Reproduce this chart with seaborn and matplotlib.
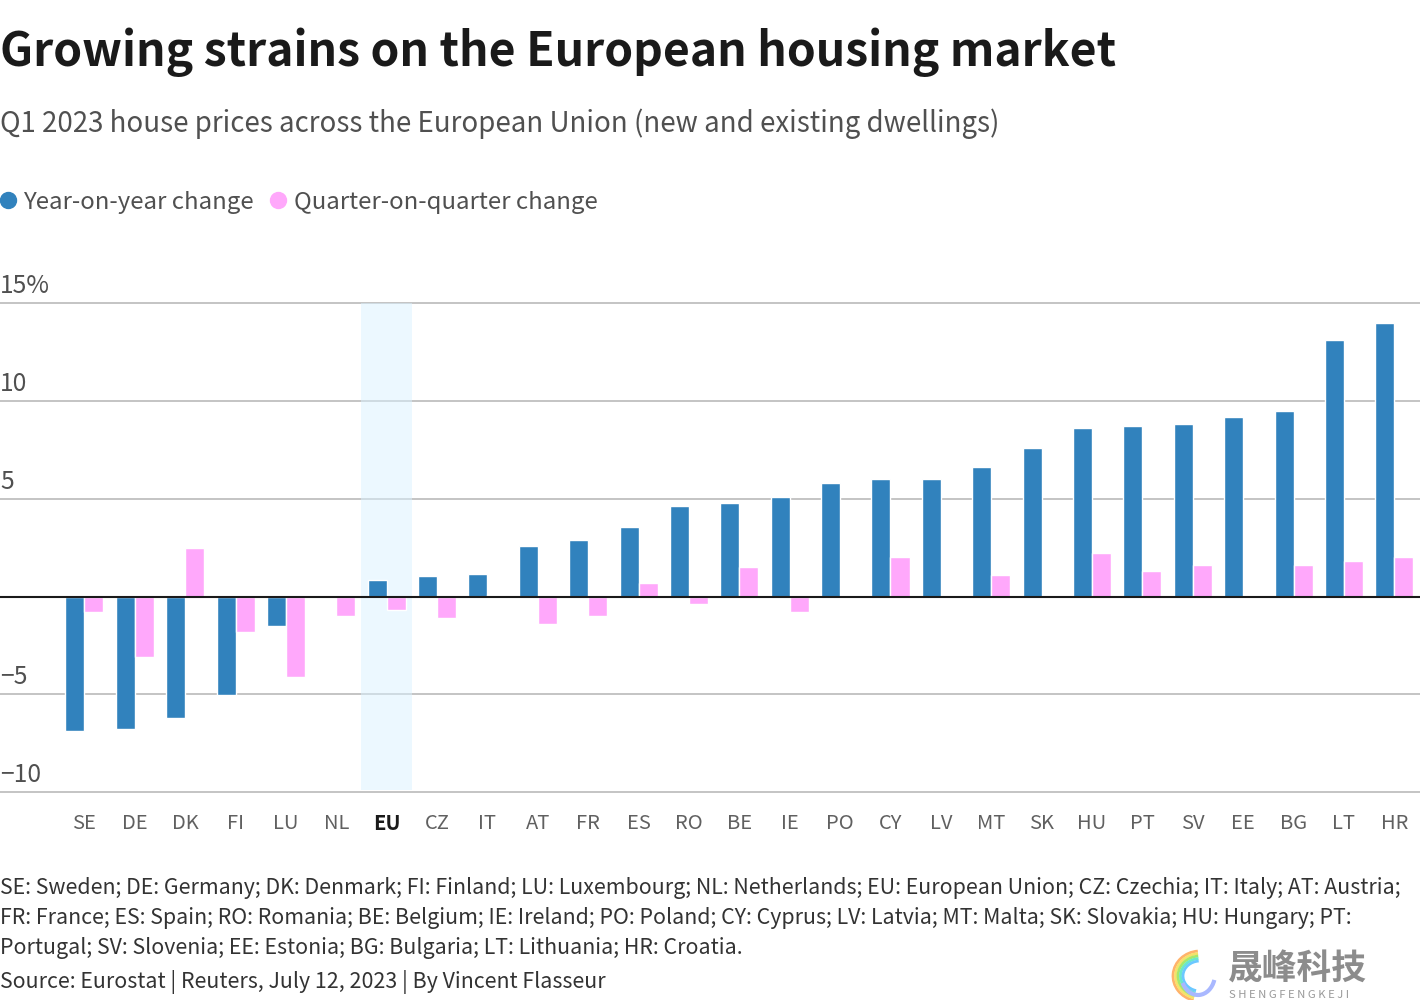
import pandas as pd
import matplotlib.pyplot as plt
import seaborn as sns
from matplotlib.lines import Line2D
from matplotlib.patches import Arc

countries = ["SE", "DE", "DK", "FI", "LU", "NL", "EU", "CZ", "IT", "AT", "FR", "ES", "RO", "BE",
             "IE", "PO", "CY", "LV", "MT", "SK", "HU", "PT", "SV", "EE", "BG", "LT", "HR"]
yoy = [-6.85, -6.75, -6.2, -5.05, -1.5, 0, 0.85, 1.05, 1.15, 2.6, 2.9, 3.55, 4.65, 4.8,
       5.1, 5.8, 6.0, 6.0, 6.6, 7.6, 8.6, 8.7, 8.8, 9.15, 9.5, 13.1, 14.0]
qoq = [-0.8, -3.1, 2.5, -1.8, -4.1, -1.0, -0.7, -1.1, 0.1, -1.4, -1.0, 0.7, -0.4, 1.5,
       -0.8, 0, 2.0, 0, 1.1, 0, 2.2, 1.3, 1.6, 0, 1.6, 1.8, 2.0]
y_ticks = [-10, -5, 0, 5, 10, 15]
y_labels = {-10: "\u221210", -5: "\u22125", 5: "5", 10: "10", 15: "15%"}

YOY_NAME = "Year-on-year change"
QOQ_NAME = "Quarter-on-quarter change"
BLUE = "#3182bd"
PINK = "#ffa8fb"
TEXT = "#505050"

sns.set_theme(style="white")
plt.rcParams["font.family"] = ["Noto Sans CJK SC", "DejaVu Sans"]

df = pd.DataFrame({
    "country": countries * 2,
    "change": yoy + qoq,
    "series": [YOY_NAME] * len(yoy) + [QOQ_NAME] * len(qoq),
})

fig = plt.figure(figsize=(14.2, 10), dpi=100)
ax = fig.add_axes([0, 0.2078, 1, 0.4892])

sns.barplot(
    data=df,
    x="country",
    y="change",
    hue="series",
    palette={YOY_NAME: BLUE, QOQ_NAME: PINK},
    width=0.755,
    gap=0,
    saturation=1,
    legend=False,
    zorder=3,
    ax=ax,
)

ax.set_xlim(-1.675, 26.51)
ax.set_ylim(-10, 15)
ax.set_xlabel("")
ax.set_ylabel("")
sns.despine(ax=ax, left=True, bottom=True)

# Lineas de la cuadricula y la del cero
ax.set_yticks(y_ticks)
ax.set_yticklabels([])
ax.grid(axis="y", color="#c4c4c4", linewidth=1.4, zorder=0)
ax.grid(axis="x", visible=False)
for line in ax.get_ygridlines():
    line.set_clip_on(False)
ax.axhline(0, color="#1a1a1a", linewidth=1.5, zorder=4)
ax.axvspan(5.5, 6.5, ymin=0.004, color="#daf2ff", alpha=0.5, linewidth=0, zorder=1)
ax.tick_params(axis="y", length=0)
ax.tick_params(axis="x", length=0, pad=15, labelsize=14.5, labelcolor="#606060")

for label in ax.get_xticklabels():
    if label.get_text() == "EU":
        label.set_fontweight("bold")
        label.set_color("#1a1a1a")

for value, text in y_labels.items():
    ax.text(0, value + 0.2, text, transform=ax.get_yaxis_transform(), ha="left", va="bottom",
            fontsize=17.8, color=TEXT)

# Titulos
fig.text(0.0, 0.948, "Growing strains on the European housing market", fontsize=33.3,
         fontweight="bold", color="#1a1a1a", va="center")
fig.text(0.0, 0.876, "Q1 2023 house prices across the European Union (new and existing dwellings)",
         fontsize=19.93, color=TEXT, va="center")

handles = [
    Line2D([], [], marker="o", linestyle="", color=BLUE, markersize=11.5, label=YOY_NAME),
    Line2D([], [], marker="o", linestyle="", color=PINK, markersize=11.5, label=QOQ_NAME),
]
fig.legend(handles=handles, loc="center left", bbox_to_anchor=(0.0, 0.798), ncol=2, frameon=False,
           prop={"size": 17.25}, labelcolor=TEXT, handlelength=0.65, handletextpad=0.33,
           columnspacing=0.67, borderpad=0, borderaxespad=0)

# Notas al pie
notes = [
    ("SE: Sweden; DE: Germany; DK: Denmark; FI: Finland; LU: Luxembourg; NL: Netherlands; EU: European Union; CZ: Czechia; IT: Italy; AT: Austria;", 0.112),
    ("FR: France; ES: Spain; RO: Romania; BE: Belgium; IE: Ireland; PO: Poland; CY: Cyprus; LV: Latvia; MT: Malta; SK: Slovakia; HU: Hungary; PT:", 0.082),
    ("Portugal; SV: Slovenia; EE: Estonia; BG: Bulgaria; LT: Lithuania; HR: Croatia.", 0.052),
    ("Source: Eurostat | Reuters, July 12, 2023 | By Vincent Flasseur", 0.018),
]
for text, y in notes:
    fig.text(0.0, y, text, fontsize=15.38, color="#333333", va="center")

# Marca de agua
fig.text(0.865, 0.031, "晟峰科技", fontsize=25, fontweight="bold", color="#8c8c8c", va="center")
fig.text(0.8655, 0.005, " ".join("SHENGFENGKEJI"), fontsize=8.2, color="#9a9a9a", va="center")
logo = fig.add_axes([1168 / 1420, 0, 56 / 1420, 52 / 1000])
logo.set_xlim(0, 56)
logo.set_ylim(0, 52)
logo.axis("off")
arc_colors = ["#ffb36b", "#f5e26b", "#a8e86b", "#6be8c8", "#6bc8ff"]
for i, color in enumerate(arc_colors):
    logo.add_patch(Arc((32, 24), 54 - 5 * i, 50 - 5 * i, theta1=95, theta2=255, color=color, linewidth=2))
logo.add_patch(Arc((30, 26), 34, 42, theta1=210, theta2=340, color="#a9b8ff", linewidth=3))

plt.savefig("out.png", dpi=100)
plt.close()
